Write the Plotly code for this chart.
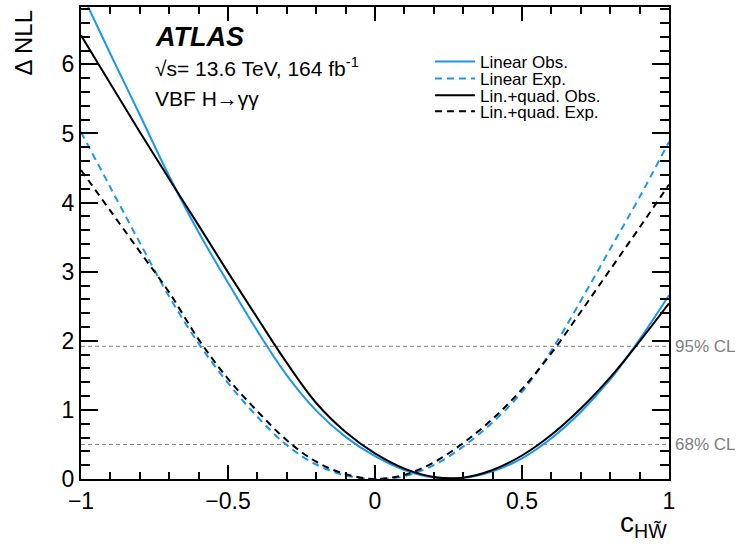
import plotly.graph_objects as go

# ---- data ----
c_vals = [-1.0, -0.9, -0.8, -0.7, -0.6, -0.5, -0.4, -0.3, -0.2, -0.1, 0.0,
          0.1, 0.2, 0.3, 0.4, 0.5, 0.6, 0.7, 0.8, 0.9, 1.0]

lin_obs = [7.05, 6.15, 5.27, 4.38, 3.57, 2.84, 2.14, 1.50, 0.99, 0.61, 0.33,
           0.13, 0.02, 0.015, 0.11, 0.30, 0.59, 0.97, 1.44, 2.02, 2.66]
lin_exp = [5.02, 4.22, 3.42, 2.64, 1.96, 1.39, 0.90, 0.49, 0.21, 0.05, 0.0,
           0.04, 0.20, 0.47, 0.82, 1.26, 1.86, 2.58, 3.33, 4.08, 4.88]
lq_obs = [6.42, 5.72, 5.02, 4.34, 3.67, 2.99, 2.33, 1.68, 1.10, 0.68, 0.37,
          0.15, 0.03, 0.02, 0.13, 0.34, 0.64, 1.02, 1.47, 1.99, 2.54]
lq_exp = [4.47, 3.88, 3.29, 2.70, 2.02, 1.45, 0.98, 0.56, 0.25, 0.07, 0.0,
          0.06, 0.24, 0.52, 0.87, 1.30, 1.82, 2.42, 3.03, 3.64, 4.26]

cl_levels = [1.92, 0.5]
cl_labels = ["95% CL", "68% CL"]

x_ticks = [-1, -0.5, 0, 0.5, 1]
y_ticks = [0, 1, 2, 3, 4, 5, 6]

BLUE = "#1a96f0"
BLACK = "#000000"
GRAY = "#808080"
FONT = "Liberation Sans, Arial, Helvetica, sans-serif"

fig = go.Figure()

# CL reference lines
for lvl in cl_levels:
    fig.add_trace(go.Scatter(x=[x_ticks[0], x_ticks[-1]], y=[lvl, lvl], mode="lines",
                             line=dict(color=GRAY, width=1, dash="4px,3px"),
                             showlegend=False, hoverinfo="skip"))

series = [
    ("Linear Obs.", lin_obs, BLUE, "solid"),
    ("Linear Exp.", lin_exp, BLUE, "7px,5px"),
    ("Lin.+quad. Obs.", lq_obs, BLACK, "solid"),
    ("Lin.+quad. Exp.", lq_exp, BLACK, "7px,5px"),
]
legend_ids = ["legend", "legend2", "legend3", "legend4"]
legend_y = [0.8836, 0.8478, 0.8119, 0.7782]

for (name, ys, col, dash), lid in zip(series, legend_ids):
    fig.add_trace(go.Scatter(x=c_vals, y=ys, mode="lines", name=name, legend=lid,
                             line=dict(color=col, width=2, dash=dash,
                                       shape="spline", smoothing=1.0)))

axis_common = dict(showgrid=False, zeroline=False, showline=True, linecolor="black",
                   linewidth=2, mirror="ticks", ticks="inside", tickcolor="black",
                   tickwidth=1.5, tickfont=dict(family=FONT, size=23, color="black"))

fig.update_xaxes(range=[-1, 1], tickvals=x_ticks, ticklen=14,
                 minor=dict(dtick=0.1, ticks="inside", ticklen=7, tickcolor="black", tickwidth=1.5),
                 **axis_common)
fig.update_yaxes(range=[0, 6.83], tickvals=y_ticks, ticklen=17,
                 minor=dict(dtick=0.2, ticks="inside", ticklen=9, tickcolor="black", tickwidth=1.5),
                 **axis_common)

annotations = [
    dict(text="<b><i>ATLAS</i></b>", x=0.1224, y=0.937, xref="paper", yref="paper",
         xanchor="left", yanchor="middle", showarrow=False,
         font=dict(family=FONT, size=27, color="black")),
    dict(text="√s= 13.6 TeV, 164 fb<sup>-1</sup>", x=0.1224, y=0.873, xref="paper", yref="paper",
         xanchor="left", yanchor="middle", showarrow=False,
         font=dict(family=FONT, size=21, color="black")),
    dict(text="VBF H→γγ", x=0.1224, y=0.806, xref="paper", yref="paper",
         xanchor="left", yanchor="middle", showarrow=False,
         font=dict(family=FONT, size=21, color="black")),
    dict(text="Δ NLL", x=-0.0986, y=0.996, xref="paper", yref="paper", textangle=-90,
         xanchor="center", yanchor="top", showarrow=False,
         font=dict(family=FONT, size=24, color="black")),
    dict(text="c<sub>HW\u0303</sub>", x=1.0, y=-0.055, xref="paper", yref="paper",
         xanchor="right", yanchor="top", showarrow=False,
         font=dict(family=FONT, size=28, color="black")),
]
for lvl, lab in zip(cl_levels, cl_labels):
    annotations.append(dict(text=lab, x=1.0, y=lvl, xref="paper", yref="y",
                            xanchor="left", yanchor="middle", xshift=4, showarrow=False,
                            font=dict(family=FONT, size=17, color=GRAY)))

legend_style = dict(xanchor="left", yanchor="middle", bgcolor="rgba(0,0,0,0)",
                    borderwidth=0, font=dict(family=FONT, size=17, color="black"),
                    itemwidth=40)

layout_legends = {}
for lid, ly in zip(legend_ids, legend_y):
    layout_legends[lid] = dict(x=0.5935, y=ly, **legend_style)

fig.update_layout(
    width=742, height=550,
    margin=dict(l=81, r=73, t=5, b=71),
    paper_bgcolor="white", plot_bgcolor="white",
    font=dict(family=FONT, color="black"),
    annotations=annotations,
    **layout_legends,
)

fig.write_html("out.html")
